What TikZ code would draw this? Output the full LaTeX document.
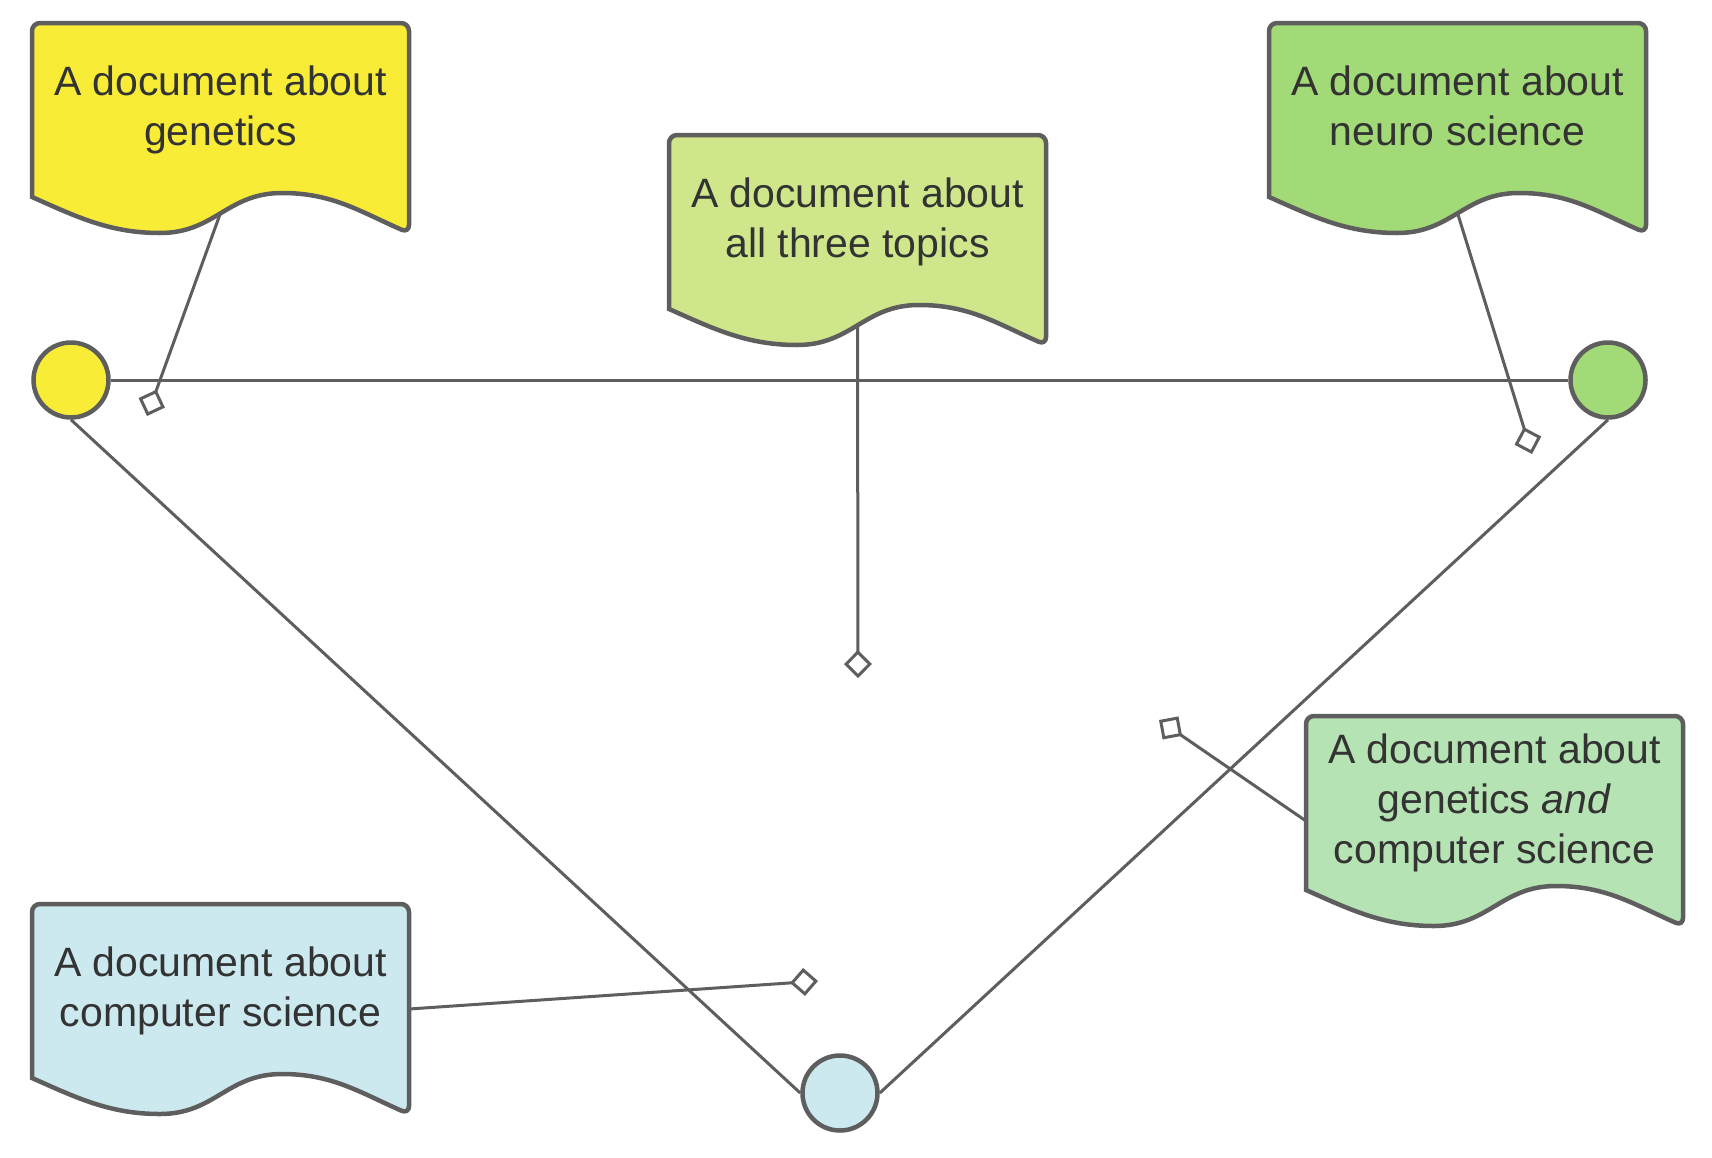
\documentclass[tikz,border=0pt]{standalone}
\usepackage{fontspec}
\setmainfont{Liberation Sans}
\usetikzlibrary{arrows.meta, calc}

\definecolor{linegray}{HTML}{5E5E5E}
\definecolor{textgray}{HTML}{333333}
\definecolor{genyellow}{HTML}{F8EC37}
\definecolor{allgreen}{HTML}{CFE78A}
\definecolor{neurogreen}{HTML}{A3DA78}
\definecolor{mixgreen}{HTML}{B6E3B4}
\definecolor{csblue}{HTML}{CBE9EE}

\pgfdeclarelayer{wires}
\pgfdeclarelayer{paper}
\pgfsetlayers{wires,paper,main}

\tikzset{
  docbox/.style={anchor=north west, minimum width=188.5pt, minimum height=90pt, inner sep=0pt, outer sep=0pt,
    align=center, text=textgray, font=\fontsize{20.5}{25}\selectfont,
    execute at begin node=\strut, execute at end node=\strut},
  docline/.style={draw=linegray, line width=2.25pt},
  topic/.style={circle, draw=linegray, line width=2.25pt, minimum size=37.5pt, inner sep=0pt},
  link/.style={draw=linegray, line width=1.5pt},
  pin/.style={link, -{Diamond[fill=white, length=14pt, width=14pt]}},
}

% paper outline under a text node, wavy bottom edge
\newcommand\docshape[2]{%
  \draw[docline, fill=#2] ($(#1.north west)+(0,174)$) [rounded corners=4pt] -- (#1.north west) -- (#1.north east)
      -- ($(#1.north east)+(0,210)$) [sharp corners]
    .. controls +(-50,-22) and +(50,0) .. ($(#1.north west)+(250,170)$)
    .. controls +(-55,0) and +(55,0) .. ($(#1.north west)+(128,210)$)
    .. controls +(-50,0) and +(45,20) .. ($(#1.north west)+(0,174)$) -- cycle;
  \coordinate (#1-tail) at ($(#1.north west)+(188.5,190)$);
  \coordinate (#1-w) at ($(#1.north west)+(0,105)$);
  \coordinate (#1-e) at ($(#1.north east)+(0,105)$);
}

\begin{document}
\begin{tikzpicture}[x=0.5pt, y=-0.5pt]
  \path[use as bounding box] (0,0) rectangle (1712,1157);

  % documents
  \node[docbox] (gen) at (32,23) {A document about\\genetics};
  \node[docbox] (all) at (669,135) {A document about\\all three topics};
  \node[docbox] (neuro) at (1269,23) {A document about\\neuro science};
  \node[docbox] (gencs) at (1306,716) {A document about\\genetics \textit{and}\\computer science};
  \node[docbox] (cs) at (32,904) {A document about\\computer science};

  \begin{pgfonlayer}{paper}
    \docshape{gen}{genyellow}
    \docshape{all}{allgreen}
    \docshape{neuro}{neurogreen}
    \docshape{gencs}{mixgreen}
    \docshape{cs}{csblue}
  \end{pgfonlayer}

  % topics
  \node[topic, fill=genyellow] (gen-dot) at (71,380) {};
  \node[topic, fill=neurogreen] (neuro-dot) at (1608,380) {};
  \node[topic, fill=csblue] (cs-dot) at (840,1093) {};

  % where the documents sit
  \coordinate (gen-pin) at (147,416);
  \coordinate (all-pin) at (858,678);
  \coordinate (neuro-pin) at (1532,454);
  \coordinate (gencs-pin) at (1159,720);
  \coordinate (cs-pin) at (818,981);

  \begin{pgfonlayer}{wires}
    \draw[link] (gen-dot) -- (neuro-dot);
    \draw[link] (gen-dot.south) -- (cs-dot.west);
    \draw[link] (neuro-dot.south) -- (cs-dot.east);

    \draw[pin] (gen-tail) -- (gen-pin);
    \draw[pin] (all-tail) -- (all-pin);
    \draw[pin] (neuro-tail) -- (neuro-pin);
    \draw[pin] (gencs-w) -- (gencs-pin);
    \draw[pin] (cs-e) -- (cs-pin);
  \end{pgfonlayer}
\end{tikzpicture}
\end{document}
